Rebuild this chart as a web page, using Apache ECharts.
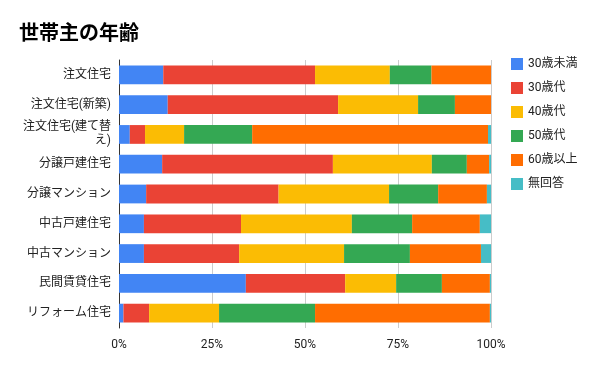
<!DOCTYPE html>
<html><head><meta charset="utf-8">
<script src="https://cdn.jsdelivr.net/npm/echarts@6/dist/echarts.min.js"></script>
<style>html,body{margin:0;padding:0;background:#fff}#c{width:600px;height:371px}</style>
</head><body><div id="c"></div>
<script>
const categories = ["注文住宅","注文住宅(新築)","注文住宅(建て替え)","分譲戸建住宅","分譲マンション","中古戸建住宅","中古マンション","民間賃貸住宅","リフォーム住宅"];
const seriesNames = ["30歳未満","30歳代","40歳代","50歳代","60歳以上","無回答"];
const under30 = [11.9,13.1,2.9,11.6,7.3,6.7,6.7,34.1,1.2];
const age30s  = [40.8,45.8,4.1,45.9,35.6,26.1,25.6,26.7,6.9];
const age40s  = [20.1,21.5,10.5,26.6,29.7,29.8,28.2,13.7,18.8];
const age50s  = [11.2,9.9,18.3,9.4,13.2,16.2,17.7,12.3,25.8];
const age60plus = [16.0,9.7,63.4,6.0,13.1,18.2,19.1,12.9,47.0];
const noAnswer = [0,0,0.8,0.5,1.1,3.0,2.7,0.3,0.3];
const xTicks = [0,25,50,75,100];
const colors = ["#4285F4","#EA4335","#FBBC04","#34A853","#FF6D01","#46BDC6"];
const values = [under30, age30s, age40s, age50s, age60plus, noAnswer];
const font = "Roboto, 'Noto Sans CJK JP', sans-serif";
const chart = echarts.init(document.getElementById('c'));
chart.setOption({
  animation:false,
  title:{text:"世帯主の年齢",left:14,top:20,textStyle:{fontSize:20,fontWeight:'bold',color:'#000',fontFamily:font}},
  legend:{orient:'vertical',left:506,top:53,itemWidth:12,itemHeight:12,itemGap:12,icon:'rect',
    data:seriesNames,textStyle:{fontSize:12,color:'#222',fontFamily:font}},
  grid:{left:119,right:109,top:60,bottom:43,containLabel:false},
  xAxis:{type:'value',min:xTicks[0],max:xTicks[xTicks.length-1],interval:25,
    axisLabel:{formatter:v=>v+'%',color:'#222',fontSize:12,fontFamily:font,margin:11},
    splitLine:{lineStyle:{color:'#ccc'}},axisLine:{show:false},axisTick:{show:false}},
  yAxis:{type:'category',data:categories,inverse:true,
    axisLine:{show:true,lineStyle:{color:'#333'}},axisTick:{show:false},
    axisLabel:{color:'#222',fontSize:12,fontFamily:font,margin:8,lineHeight:14,
      formatter:s=>s.length>9?s.slice(0,8)+'\n'+s.slice(8):s}},
  series: seriesNames.map((n,i)=>({name:n,type:'bar',stack:'a',barWidth:'63%',
    itemStyle:{color:colors[i]},data:values[i]}))
});
</script></body></html>
